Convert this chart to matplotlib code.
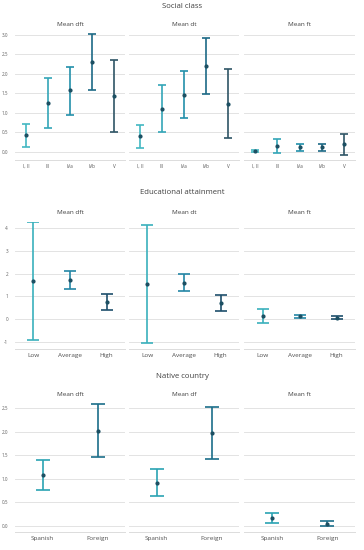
import matplotlib
matplotlib.use("Agg")
import matplotlib.pyplot as plt

plt.rcParams['font.family'] = ['Open Sans', 'DejaVu Sans']
plt.rcParams['axes.unicode_minus'] = False

# ---- data ----
social_cats = ["I, II", "III", "IVa", "IVb", "V"]
social_dft_mean = [0.43, 1.26, 1.58, 2.31, 1.43]
social_dft_low = [0.13, 0.62, 0.96, 1.58, 0.52]
social_dft_high = [0.73, 1.90, 2.19, 3.03, 2.35]
social_dt_mean = [0.41, 1.11, 1.47, 2.20, 1.24]
social_dt_low = [0.11, 0.52, 0.87, 1.48, 0.35]
social_dt_high = [0.70, 1.71, 2.07, 2.91, 2.13]
social_ft_mean = [0.03, 0.15, 0.12, 0.12, 0.20]
social_ft_low = [-0.01, -0.03, 0.02, 0.03, -0.08]
social_ft_high = [0.06, 0.33, 0.21, 0.20, 0.46]
social_ticks = [0.0, 0.5, 1.0, 1.5, 2.0, 2.5, 3.0]

edu_cats = ["Low", "Average", "High"]
edu_dft_mean = [1.68, 1.73, 0.75]
edu_dft_low = [-0.91, 1.34, 0.38]
edu_dft_high = [4.24, 2.09, 1.11]
edu_dt_mean = [1.54, 1.59, 0.70]
edu_dt_low = [-1.05, 1.24, 0.35]
edu_dt_high = [4.14, 1.98, 1.04]
edu_ft_mean = [0.13, 0.12, 0.06]
edu_ft_low = [-0.16, 0.04, 0.00]
edu_ft_high = [0.44, 0.19, 0.12]
edu_ticks = [-1, 0, 1, 2, 3, 4]

nat_cats = ["Spanish", "Foreign"]
nat_dft_mean = [1.08, 2.02]
nat_dft_low = [0.77, 1.46]
nat_dft_high = [1.39, 2.58]
nat_df_mean = [0.92, 1.97]
nat_df_low = [0.63, 1.42]
nat_df_high = [1.20, 2.52]
nat_ft_mean = [0.17, 0.05]
nat_ft_low = [0.06, 0.00]
nat_ft_high = [0.28, 0.11]
nat_ticks = [0.0, 0.5, 1.0, 1.5, 2.0, 2.5]

social_colors = ["#43b8c2", "#33a6b8", "#2390aa", "#1d6a86", "#2f5566"]
edu_colors = ["#3ab0bc", "#2486a6", "#1e4f6c"]
nat_colors = ["#2aa3b3", "#1b6e8a"]

W, H = 364, 550
fig = plt.figure(figsize=(W / 100, H / 100), dpi=100)

panel_x = [(15, 125), (129, 239), (244, 355)]

rows = [
    dict(title="Social class", title_y=7, sub_y=25, top=31, bottom=160,
         ylim=(-0.205, 3.1), ticks=social_ticks, fmt="{:.1f}", cats=social_cats,
         colors=social_colors, cap=3.0, tfs=3.3, xfs=3.3,
         panels=[("Mean dft", social_dft_mean, social_dft_low, social_dft_high),
                 ("Mean dt", social_dt_mean, social_dt_low, social_dt_high),
                 ("Mean ft", social_ft_mean, social_ft_low, social_ft_high)]),
    dict(title="Educational attainment", title_y=192, sub_y=213, top=222, bottom=349,
         ylim=(-1.31, 4.26), ticks=edu_ticks, fmt="{:d}", cats=edu_cats,
         colors=edu_colors, cap=4.0, tfs=3.3, xfs=4.6,
         panels=[("Mean dft", edu_dft_mean, edu_dft_low, edu_dft_high),
                 ("Mean dt", edu_dt_mean, edu_dt_low, edu_dt_high),
                 ("Mean ft", edu_ft_mean, edu_ft_low, edu_ft_high)]),
    dict(title="Native country", title_y=377, sub_y=395, top=403, bottom=532,
         ylim=(-0.127, 2.606), ticks=nat_ticks, fmt="{:.1f}", cats=nat_cats,
         colors=nat_colors, cap=5.0, tfs=3.3, xfs=4.6,
         panels=[("Mean dft", nat_dft_mean, nat_dft_low, nat_dft_high),
                 ("Mean df", nat_df_mean, nat_df_low, nat_df_high),
                 ("Mean ft", nat_ft_mean, nat_ft_low, nat_ft_high)]),
]

for row in rows:
    fig.text(0.5, 1 - row["title_y"] / H, row["title"], ha="center", va="center",
             fontsize=5.6, color="#404040")
    for pi, ((x0, x1), (sub, mean, lo, hi)) in enumerate(zip(panel_x, row["panels"])):
        ax = fig.add_axes([x0 / W, 1 - row["bottom"] / H, (x1 - x0) / W,
                           (row["bottom"] - row["top"]) / H])
        n = len(row["cats"])
        ax.set_xlim(-0.5, n - 0.5)
        ax.set_ylim(*row["ylim"])
        for t in row["ticks"]:
            ax.axhline(t, color="#e3e3e3", lw=0.7, zorder=0)
        for i in range(n):
            c = row["colors"][i]
            ax.errorbar([i], [mean[i]],
                        yerr=[[mean[i] - lo[i]], [hi[i] - mean[i]]],
                        fmt="o", color=c, ecolor=c, elinewidth=1.2,
                        capsize=row["cap"], capthick=1.2, markersize=2.0,
                        markerfacecolor="#1c4f62", markeredgecolor="#1c4f62",
                        zorder=3)
        for s in ["top", "left", "right"]:
            ax.spines[s].set_visible(False)
        ax.spines["bottom"].set_color("#dcdcdc")
        ax.spines["bottom"].set_linewidth(0.7)
        ax.set_xticks(range(n))
        ax.set_xticklabels(row["cats"], fontsize=row["xfs"], color="#505050")
        ax.tick_params(axis="x", length=0, pad=3)
        ax.set_yticks(row["ticks"])
        if pi == 0:
            ax.set_yticklabels([row["fmt"].format(t) for t in row["ticks"]],
                               fontsize=row["tfs"], color="#606060")
            ax.tick_params(axis="y", length=0, pad=5)
        else:
            ax.set_yticklabels([])
            ax.tick_params(axis="y", length=0)
        ax.patch.set_alpha(0)
        cx = (x0 + x1) / 2
        fig.text(cx / W, 1 - row["sub_y"] / H, sub, ha="center", va="center",
                 fontsize=4.6, color="#404040")

fig.savefig("out.png", dpi=100, facecolor="white")
